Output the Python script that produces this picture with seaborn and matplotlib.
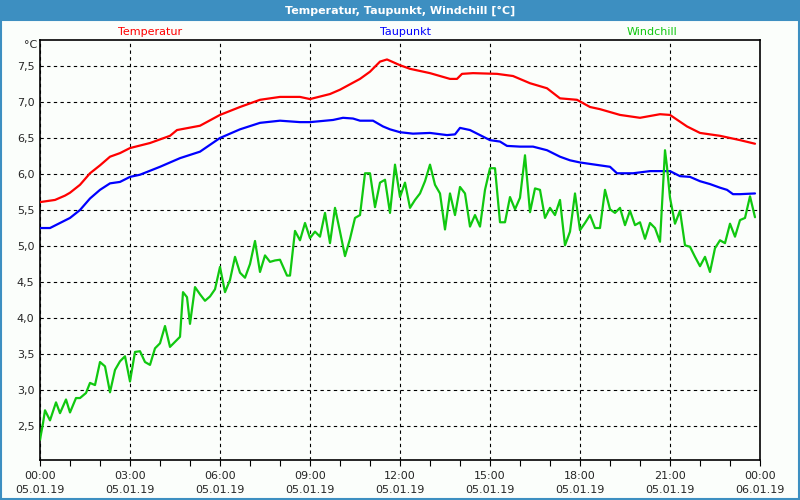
import pandas as pd
import numpy as np
import matplotlib
matplotlib.use('Agg')
import matplotlib.pyplot as plt
import matplotlib.dates as mdates
from matplotlib.ticker import FuncFormatter
from matplotlib.patches import Rectangle
import seaborn as sns

# minutes after 05.01.19 00:00
temp_min = [0, 30, 50, 60, 80, 100, 120, 140, 160, 180, 220, 260, 274, 320, 360, 400, 440, 480, 520, 540,
            580, 600, 640, 660, 680, 694, 720, 740, 780, 820, 834, 844, 866, 914, 946, 980, 1014, 1040, 1074, 1100,
            1120, 1160, 1200, 1240, 1260, 1294, 1320, 1360, 1400, 1430]
temp_val = [5.61, 5.64, 5.70, 5.74, 5.85, 6.01, 6.12, 6.24, 6.29, 6.36, 6.43, 6.53, 6.61, 6.67, 6.82, 6.93, 7.03, 7.07, 7.07, 7.04,
            7.11, 7.17, 7.32, 7.42, 7.56, 7.59, 7.51, 7.46, 7.40, 7.32, 7.32, 7.39, 7.40, 7.39, 7.36, 7.26, 7.19, 7.05, 7.03, 6.93,
            6.90, 6.82, 6.78, 6.83, 6.82, 6.66, 6.57, 6.53, 6.47, 6.42]

dew_min = [0, 20, 40, 60, 80, 100, 120, 140, 160, 180, 200, 240, 280, 320, 360, 400, 440, 480, 520, 540,
           586, 606, 626, 640, 666, 686, 700, 720, 746, 780, 814, 830, 840, 860, 880, 900, 920, 934, 960, 986,
           1014, 1040, 1060, 1080, 1100, 1120, 1140, 1154, 1186, 1220, 1260, 1280, 1300, 1320, 1340, 1360, 1374, 1386, 1400, 1430]
dew_val = [5.25, 5.25, 5.32, 5.39, 5.50, 5.66, 5.78, 5.87, 5.89, 5.96, 5.99, 6.10, 6.22, 6.31, 6.50, 6.62, 6.71, 6.74, 6.72, 6.72,
           6.75, 6.78, 6.77, 6.74, 6.74, 6.66, 6.62, 6.58, 6.56, 6.57, 6.54, 6.55, 6.64, 6.61, 6.54, 6.47, 6.45, 6.39, 6.38, 6.38,
           6.33, 6.24, 6.19, 6.16, 6.14, 6.12, 6.10, 6.01, 6.01, 6.04, 6.04, 5.97, 5.96, 5.90, 5.86, 5.81, 5.78, 5.72, 5.72, 5.73]

wc_min = [0, 6, 10, 20, 32, 40, 52, 60, 72, 80, 92, 100, 110, 120, 130, 140, 150, 160, 170, 180,
          190, 200, 210, 220, 230, 240, 250, 260, 270, 280, 286, 294, 300, 310, 320, 330, 340, 350, 360, 370,
          380, 390, 400, 410, 420, 430, 440, 450, 460, 470, 480, 494, 500, 510, 520, 530, 540, 550, 560, 570,
          580, 590, 600, 610, 620, 630, 640, 650, 660, 670, 680, 690, 700, 710, 720, 730, 740, 750, 760, 770,
          780, 790, 800, 810, 820, 830, 840, 850, 860, 870, 880, 890, 900, 910, 920, 930, 940, 950, 960, 970,
          980, 990, 1000, 1010, 1020, 1030, 1040, 1050, 1060, 1070, 1080, 1090, 1100, 1110, 1120, 1130, 1140, 1150, 1160, 1170,
          1180, 1190, 1200, 1210, 1220, 1230, 1240, 1250, 1254, 1260, 1270, 1280, 1290, 1300, 1310, 1320, 1330, 1340, 1350, 1360,
          1370, 1380, 1390, 1400, 1410, 1420, 1430]
wc_val = [2.31, 2.54, 2.72, 2.58, 2.83, 2.68, 2.87, 2.69, 2.89, 2.89, 2.96, 3.10, 3.07, 3.39, 3.33, 2.97, 3.28, 3.40, 3.47, 3.12,
          3.53, 3.54, 3.39, 3.35, 3.58, 3.65, 3.89, 3.60, 3.67, 3.74, 4.36, 4.29, 3.92, 4.43, 4.33, 4.24, 4.30, 4.40, 4.71, 4.36,
          4.53, 4.85, 4.63, 4.56, 4.75, 5.07, 4.64, 4.87, 4.78, 4.80, 4.81, 4.59, 4.59, 5.21, 5.08, 5.32, 5.11, 5.20, 5.13, 5.46,
          5.04, 5.53, 5.20, 4.86, 5.10, 5.39, 5.43, 6.01, 6.01, 5.54, 5.88, 5.92, 5.46, 6.13, 5.68, 5.88, 5.53, 5.64, 5.73, 5.90,
          6.13, 5.85, 5.73, 5.23, 5.73, 5.43, 5.82, 5.73, 5.27, 5.43, 5.27, 5.78, 6.08, 6.08, 5.33, 5.33, 5.68, 5.51, 5.67, 6.26,
          5.47, 5.80, 5.78, 5.39, 5.53, 5.43, 5.64, 5.01, 5.20, 5.73, 5.22, 5.32, 5.43, 5.25, 5.25, 5.78, 5.51, 5.46, 5.53, 5.29,
          5.49, 5.29, 5.33, 5.10, 5.32, 5.25, 5.06, 6.33, 6.10, 5.67, 5.31, 5.49, 5.01, 4.99, 4.85, 4.72, 4.85, 4.64, 4.97, 5.08,
          5.04, 5.31, 5.13, 5.36, 5.39, 5.69, 5.40]

series_names = ['Temperatur', 'Taupunkt', 'Windchill']
series_colors = ['#ff0000', '#0000ff', '#10c810']
y_ticks = [2.5, 3.0, 3.5, 4.0, 4.5, 5.0, 5.5, 6.0, 6.5, 7.0, 7.5]

start = pd.Timestamp('2019-01-05 00:00')
end = pd.Timestamp('2019-01-06 00:00')

def make_df(mins, vals):
    return pd.DataFrame({'zeit': start + pd.to_timedelta(mins, unit='min'), 'wert': vals})

frames = [make_df(temp_min, temp_val), make_df(dew_min, dew_val), make_df(wc_min, wc_val)]

sns.set_style('white')
plt.rcParams['font.family'] = ['DejaVu Sans']

bg = '#fbfefb'
fig = plt.figure(figsize=(8, 5), dpi=100, facecolor=bg)
ax = fig.add_axes([40 / 800, 1 - 460 / 500, 720 / 800, 420 / 500])
ax.set_facecolor(bg)

# title bar and frame
fig.patches.append(Rectangle((0, 1 - 21 / 500), 1, 21 / 500, transform=fig.transFigure,
                             facecolor='#3d8fc1', edgecolor='none', zorder=0))
fig.patches.append(Rectangle((0.0015, 0.003), 0.997, 1 - 21 / 500, transform=fig.transFigure,
                             facecolor='none', edgecolor='#3d8fc1', linewidth=1.5, zorder=0))
fig.text(0.5, 1 - 10.5 / 500, 'Temperatur, Taupunkt, Windchill [°C]', color='white',
         fontsize=8, fontweight='bold', ha='center', va='center')

for df, name, col in zip(frames, series_names, series_colors):
    sns.lineplot(data=df, x='zeit', y='wert', color=col, linewidth=1.6, ax=ax, zorder=3)

label_x = [150, 405, 652]
for nm, col, lx in zip(series_names, series_colors, label_x):
    fig.text(lx / 800, 1 - 32 / 500, nm, color=col, fontsize=8, ha='center', va='center')
fig.text(37 / 800, 1 - 45 / 500, '°C', fontsize=8, ha='right', va='center')

ax.set_xlim(start, end)
ax.set_ylim(2.03, 7.86)
ax.set_yticks(y_ticks)
ax.yaxis.set_major_formatter(FuncFormatter(lambda v, p: f'{v:.1f}'.replace('.', ',')))
ax.xaxis.set_major_locator(mdates.HourLocator(byhour=range(0, 24, 3)))
ax.xaxis.set_minor_locator(mdates.HourLocator())
ax.xaxis.set_major_formatter(mdates.DateFormatter('%H:%M\n%d.%m.%y'))
ax.tick_params(axis='x', which='both', direction='out', length=4, width=0.8, color='black',
               labelsize=8, pad=4, bottom=True)
ax.tick_params(axis='y', which='both', length=0, labelsize=8, pad=4, left=False)
for lbl in ax.get_xticklabels():
    lbl.set_linespacing(1.45)
ax.set_xlabel('')
ax.set_ylabel('')
ax.grid(True, which='major', color='black', linestyle=(0, (3, 3)), linewidth=0.8)
for sp in ax.spines.values():
    sp.set_visible(True)
    sp.set_color('black')
    sp.set_linewidth(1.2)

fig.savefig('out.png', dpi=100, facecolor=bg)
